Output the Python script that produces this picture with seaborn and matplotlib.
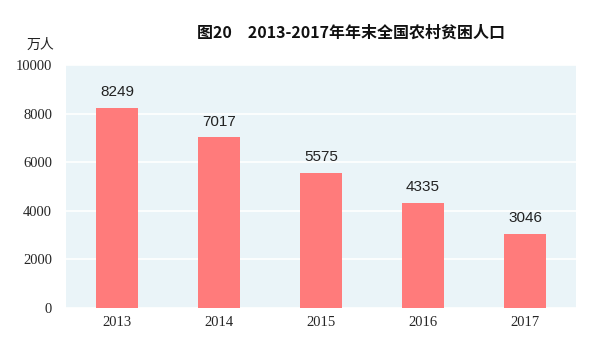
import matplotlib
matplotlib.use("Agg")
import matplotlib.pyplot as plt
import seaborn as sns
import pandas as pd

years = ["2013", "2014", "2015", "2016", "2017"]
values = [8249, 7017, 5575, 4335, 3046]
yticks = [0, 2000, 4000, 6000, 8000, 10000]

sns.set_theme(style="white")
plt.rcParams['font.family'] = ['Noto Sans CJK SC', 'DejaVu Sans']

df = pd.DataFrame({"year": years, "value": values})

fig = plt.figure(figsize=(6, 3.4), dpi=100)
ax = fig.add_axes([0.11, 0.094, 0.85, 0.715])
ax.set_facecolor("#EAF4F8")

sns.barplot(data=df, x="year", y="value", color="#FF7B7B", saturation=1,
            width=0.41, ax=ax, zorder=3, linewidth=0)

ax.set_ylim(0, 10000)
ax.set_xlim(-0.5, 4.5)
ax.set_yticks(yticks)
ax.set_yticklabels([str(t) for t in yticks], family=['Liberation Serif'], fontsize=10.5)
ax.set_xticklabels(years, family=['Liberation Serif'], fontsize=10.5)
ax.yaxis.grid(True, color="white", linewidth=1.2, zorder=0)
ax.set_axisbelow(True)
for s in ax.spines.values():
    s.set_visible(False)
ax.tick_params(axis='y', length=0, pad=10)
ax.tick_params(axis='x', length=0, pad=6)
ax.set_xlabel("")
ax.set_ylabel("")

for i, v in enumerate(values):
    ax.text(i, v + 350, str(v), ha="center", va="bottom",
            family=['Liberation Sans'], fontsize=11, color="#222222")

fig.text(0.585, 0.905, "图20　2013-2017年年末全国农村贫困人口", ha="center", va="center",
         fontsize=11.5, fontweight="bold", color="#111111")
fig.text(0.068, 0.868, "万人", ha="center", va="center", fontsize=10, color="#222222")

fig.savefig("out.png", dpi=100, facecolor="white")
